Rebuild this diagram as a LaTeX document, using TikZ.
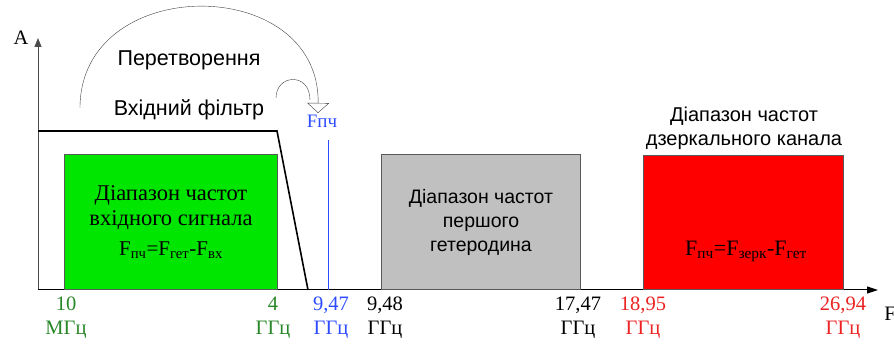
\documentclass[tikz,border=0pt]{standalone}
\usepackage{fontspec}
\setmainfont{Liberation Serif}
\setsansfont{Liberation Sans}
\usetikzlibrary{arrows.meta}
\definecolor{BandGreen}{RGB}{0,230,0}
\definecolor{BandGray}{RGB}{192,192,192}
\definecolor{BandRed}{RGB}{255,0,0}
\definecolor{LblGreen}{RGB}{40,135,40}
\definecolor{LblBlue}{RGB}{45,75,255}
\definecolor{LblRed}{RGB}{235,35,35}

\begin{document}
\begin{tikzpicture}[x=1pt, y=-1pt,
          band/.style={rectangle, draw=black!65, line width=1pt, anchor=south west,
                       align=center, font=\rmfamily\fontsize{22.5}{25}\selectfont},
          lbl/.style={align=center, font=\rmfamily\fontsize{20.5}{24}\selectfont},
          capt/.style={align=center, font=\sffamily\fontsize{21.5}{24}\selectfont},
          arr/.style={-{Triangle[open, length=10pt, width=22pt]}, draw=black!75, thin}
        ]
        \useasboundingbox (0,0) rectangle (894,347);

        % axes
        \coordinate (o) at (38,290);
        \coordinate (ytop) at (38,38);
        \coordinate (xend) at (878,290);
        \draw[-{Triangle[length=9pt, width=7pt]}, black!70, line width=1pt] (o) -- (ytop);
        \draw[-{Triangle[length=11pt, width=7pt]}, line width=1pt] (o) -- (xend);
        \node[lbl] (ax) at (21,38) {A};
        \node[lbl] (fx) at (890,314) {F};

        % bands
        \node[band, fill=BandGreen, minimum width=213pt, minimum height=135pt]
              (vx) at (64,290)
              {Діапазон частот\\вхідного сигнала\\[5pt]{\fontsize{21}{22}\selectfont
               F\textsubscript{пч}=F\textsubscript{гет}-F\textsubscript{вх}}};
        \node[band, fill=BandGray, minimum width=199pt, minimum height=135pt,
              font=\sffamily\fontsize{19.5}{24}\selectfont]
              (get) at (381,290) {Діапазон частот\\першого\\гетеродина};
        \node[band, fill=BandRed, minimum width=200pt, minimum height=134pt]
              (zk) at (643,290) {};
        \node[lbl, font=\rmfamily\fontsize{22}{24}\selectfont] (zkf) at (746,251)
              {F\textsubscript{пч}=F\textsubscript{зерк}-F\textsubscript{гет}};
        \node[capt, font=\sffamily\fontsize{20}{24}\selectfont] (zkt) at (744,128)
              {Діапазон частот\\дзеркального канала};

        % input filter
        \coordinate (fa) at (38,131);
        \coordinate (fb) at (277,131);
        \coordinate (fc) at (308,290);
        \draw[line width=1.6pt] (fa) -- (fb) -- (fc);
        \node[capt] (flt) at (189,110) {Вхідний фільтр};
        \node[capt] (conv) at (189,60) {Перетворення};

        % IF line
        \coordinate (ifb) at (328,290);
        \coordinate (ift) at (328,140);
        \draw[LblBlue, line width=1pt] (ifb) -- (ift);
        \node[lbl, text=LblBlue, font=\rmfamily\fontsize{19}{20}\selectfont] (ifl) at (322,121) {Fпч};

        % conversion arcs
        \coordinate (c0) at (80,108);
        \coordinate (c1) at (318,113);
        \coordinate (s0) at (276,98);
        \coordinate (s1) at (310,100);
        \draw[arr] (c0) .. controls (80,-27) and (320,-27) .. (c1);
        \draw[black!75, thin] (s0) .. controls (276,74) and (310,72) .. (s1);

        % frequency marks
        \foreach \x/\v/\u/\c [count=\i] in {66/10/МГц/LblGreen, 273/4/ГГц/LblGreen,
              331/{9,47}/ГГц/LblBlue, 385/{9,48}/ГГц/black, 578/{17,47}/ГГц/black,
              643/{18,95}/ГГц/LblRed, 843/{26,94}/ГГц/LblRed} {
          \node[lbl, text=\c] (m\i) at (\x,318) {\v\\\u};
        }
      \end{tikzpicture}
\end{document}
